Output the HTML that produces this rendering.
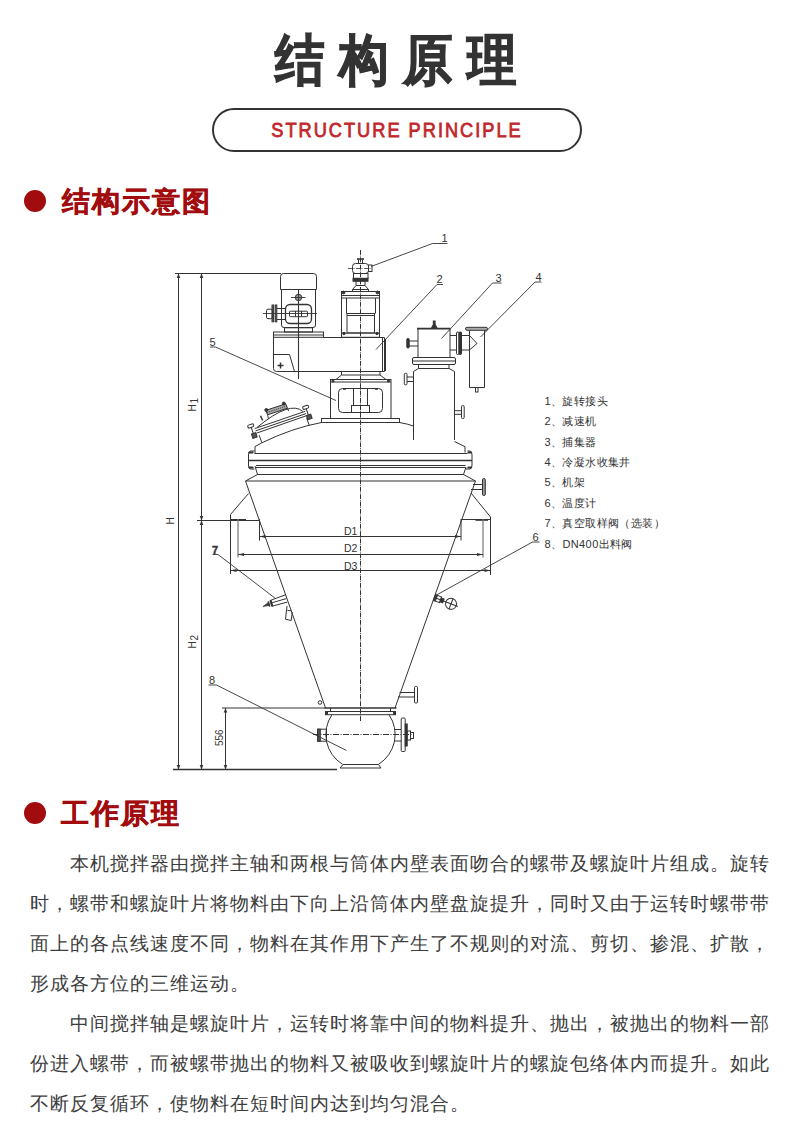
<!DOCTYPE html>
<html>
<head>
<meta charset="utf-8">
<style>
html,body{margin:0;padding:0;background:#fff;}
body{width:790px;height:1138px;position:relative;overflow:hidden;font-family:"Liberation Sans",sans-serif;}
.title{position:absolute;left:8px;top:19.5px;width:790px;text-align:center;font-size:55px;font-weight:700;color:#333;letter-spacing:15.9px;transform:scaleX(0.9);transform-origin:395px 0;-webkit-text-stroke:1.2px #333;line-height:80px;}
.pill{position:absolute;left:212px;top:108px;width:366px;height:40px;border:2px solid #333;border-radius:22px;}
.pilltxt{position:absolute;left:2px;top:117px;width:790px;text-align:center;font-size:20px;color:#c1272d;letter-spacing:2.2px;line-height:26px;-webkit-text-stroke:0.8px #c1272d;transform:scaleX(0.91);transform-origin:395px 0;}
.h2{position:absolute;left:61px;font-size:28px;letter-spacing:2px;font-weight:700;color:#a20c0e;line-height:34px;margin-top:1px;-webkit-text-stroke:0.5px #a20c0e;}
.dot{position:absolute;left:24px;width:22px;height:22px;border-radius:50%;background:#a20c0e;}
.body{position:absolute;left:30px;width:740px;font-size:19px;letter-spacing:1px;font-weight:400;color:#3d3d3d;line-height:40px;text-align:justify;}
.ln{white-space:nowrap;text-align:justify;text-align-last:justify;height:40px;}
.ln.last{text-align-last:left;}
svg{position:absolute;left:0;top:0;}
</style>
</head>
<body>
<div class="title">结构原理</div>
<div class="pill"></div>
<div class="pilltxt">STRUCTURE PRINCIPLE</div>

<div class="dot" style="top:190px"></div>
<div class="h2" style="top:184px;left:62px">结构示意图</div>

<svg id="diag" width="790" height="1138" viewBox="0 0 790 1138">
<g fill="none" stroke="#333" stroke-width="1">
<!-- dimension lines -->
<path d="M175 273.5H281"/>
<path d="M178.5 273.5V769.5"/>
<path d="M201.5 273.5V769.5"/>
<path d="M197 520.5H260"/>
<path d="M222 708H325"/>
<path d="M225.5 708V769.5"/>
<path d="M173 769.5H337" stroke-width="1.6"/>
</g>
<g fill="#333" stroke="none">
<path d="M178.5 273.5l-1.8 4.5h3.6z"/>
<path d="M178.5 769.5l-1.8 -4.5h3.6z"/>
<path d="M201.5 273.5l-1.8 4.5h3.6z"/>
<path d="M201.5 769.5l-1.8 -4.5h3.6z"/>
<path d="M201.5 520.5l-1.8 4.5h3.6z"/>
<path d="M201.5 520.5l-1.8 -4.5h3.6z"/>
<path d="M225.5 708l-1.8 4.5h3.6z"/>
<path d="M225.5 769.5l-1.8 -4.5h3.6z"/>
</g>
<g font-family="Liberation Sans" font-size="10" fill="#3a3a3a">
<text transform="translate(174 524.5) rotate(-90)">H</text>
<text transform="translate(196 411.5) rotate(-90)">H<tspan dy="1.8" dx="0.8">1</tspan></text>
<text transform="translate(196 648.5) rotate(-90)">H<tspan dy="1.8" dx="0.8">2</tspan></text>
<text transform="translate(223 746) rotate(-90)">556</text>
</g>
<g fill="none" stroke="#333" stroke-width="1">
<!-- centerline -->
<path d="M360.5 250V721" stroke-dasharray="4.8 0.9 0.8 0.9" stroke-width="1"/>
<!-- motor -->
<path d="M280.5 289.5V276.5Q280.5 273.5 283.5 273.5H313.5Q316.5 273.5 316.5 276.5V289.5Z"/>
<path d="M281.5 289.5V325Q281.5 327.5 284 327.5H313Q315.5 327.5 315.5 325V289.5"/>
<rect x="285.5" y="304.5" width="26" height="19" rx="4.5" stroke-width="1.3"/>
<rect x="289.5" y="311.2" width="18" height="5.5" rx="0.8"/>
<path d="M295.5 311v5.5M301.5 311v5.5"/>
<path d="M263 313.5H317" stroke-width="0.9"/>
<path d="M298.5 289.5V379" stroke-width="1.1"/>
<circle cx="298.5" cy="297.5" r="3.2" fill="#999"/>
<path d="M291 297.5h14.5M298.5 292.5v10" stroke-width="0.9"/>
<path d="M277 308.5H285.5M277 319.5H285.5"/>
<rect x="272" y="305" width="1.6" height="16.8" fill="#666"/>
<rect x="275.2" y="305" width="1.6" height="16.8" fill="#666"/>
<rect x="266.5" y="309.2" width="5.8" height="9.5" rx="1.5"/>
<rect x="284.5" y="327.8" width="28" height="4.2"/>
<rect x="273.5" y="332" width="50" height="5.3"/>
<path d="M273.5 335H323.5"/>
<!-- gearbox horizontal -->
<path d="M323.5 337.5H384.5V371.5H276.5Q273.5 371.5 273.5 368.5V337.5"/>
<path d="M382.5 338V371M385.5 339V371"/>
<path d="M273.5 354.5H289.5L294.5 371.5"/>
<path d="M277.5 365.5h6M280.5 362.5v6" stroke-width="1.5"/>
<path d="M380 371.5h4"/>
<!-- reducer housing -->
<rect x="341.5" y="291.5" width="38" height="6.5"/>
<path d="M341.5 295.5H379.5"/>
<path d="M341.5 298V333M379.5 298V333"/>
<path d="M346.5 298V313.5M375.5 298V313.5"/>
<rect x="347" y="313.5" width="27.5" height="19.5"/>
<path d="M347 315.5H374.5"/>
<rect x="341.5" y="333" width="38" height="4.3"/>
<circle cx="343.5" cy="292.5" r="1.4" fill="#333"/>
<circle cx="377.5" cy="292.5" r="1.4" fill="#333"/>
<circle cx="344" cy="333.5" r="1.2" fill="#333"/>
<circle cx="377" cy="333.5" r="1.2" fill="#333"/>
<!-- rotary joint -->
<path d="M357 259H364" stroke-width="1.6"/>
<path d="M358.5 259.5V263.5M362.5 259.5V263.5"/>
<rect x="352.5" y="263.5" width="16" height="10" rx="3"/>
<rect x="368.5" y="265" width="3.5" height="6.5"/>
<path d="M348 268.5H372" stroke-dasharray="4 1.5 1 1.5" stroke-width="0.8"/>
<rect x="353.5" y="273.5" width="14.5" height="5"/>
<rect x="353" y="278.3" width="15" height="3" fill="#333"/>
<path d="M356 281.5V285.5M365 281.5V285.5M356 285.5H365"/>
<path d="M356 285.5L352.5 289.5H368.5L365 285.5M352.5 289.5V291.5H368.5V289.5"/>
<!-- frame 5 -->
<path d="M341.5 371.5V375H380V371.5"/>
<path d="M341.5 375L336 379.5M380 375L386 379.5"/>
<rect x="330.5" y="379.5" width="60.5" height="39"/>
<path d="M330.5 382H391"/>
<circle cx="333" cy="381" r="1.1" fill="#333"/>
<circle cx="388.5" cy="381" r="1.1" fill="#333"/>
<rect x="338.5" y="388.5" width="44" height="24" rx="4"/>
<path d="M353.5 388.5V405.5M367.5 388.5V405.5"/>
<path d="M343 389h3M375 389h3" stroke-width="1.5"/>
<rect x="351.5" y="405.5" width="18" height="7"/>
<rect x="321.5" y="418.5" width="78" height="4"/>
<!-- dome head -->
<path d="M255 453.5V446.5L261.5 443"/>
<path d="M261.5 443Q292 428 321.5 422.5"/>
<path d="M399.5 422.5Q408 424 413.5 426"/>
<path d="M454.5 441.5L465 446.7V452.5"/>
<!-- body flange -->
<path d="M254.5 453.5H467.5M256 465.5H465.5M256 467.5H465.5"/>
<path d="M249 460.5H472" stroke-width="1.4"/>
<path d="M257 474.5H464M245.5 481H475.5"/>
<path d="M255 466L257.5 474.5L245.5 481M466 467L463.5 474.5L475.5 481"/>
<path d="M254.5 451H250.5Q248.5 451 248.5 455V465Q248.5 469 250.5 469H254.5"/>
<path d="M249.5 452.5h3M249.5 467.5h3" stroke-width="2.2" stroke-linecap="round"/>
<path d="M467.5 451H470Q472 451 472 455V465Q472 469 470 469H466"/>
<path d="M468.5 452.5h2.5M468.5 467.5h2.5" stroke-width="2.2" stroke-linecap="round"/>
<!-- cone -->
<path d="M245.5 481L325.5 708M475.5 481L395 708"/>
<path d="M324.5 708H396.5" stroke-width="1.4"/>
<path d="M330.5 708V711.5M390.5 708V711.5"/>
<rect x="325.5" y="711.5" width="70" height="3.2"/>
<path d="M327 711.5v3.2M394 711.5v3.2" stroke-width="2"/>
<!-- right top nozzle -->
<path d="M473 484.5H482.5M471 489.5H482.5"/>
<rect x="482.5" y="478.5" width="2.8" height="17" rx="1.2" fill="#999"/>
<!-- supports -->
<path d="M248.5 493.5L230.5 514.5V574M230.5 519.5H246"/>
<path d="M238 519V557.5" stroke="#777" stroke-width="1.2"/>
<path d="M259.5 519V540.5"/>
<path d="M471 493L490.5 517V575M461 519.5H490.5"/>
<path d="M475.5 520.5H488" stroke="#555"/>
<path d="M483 519V557.5" stroke="#777" stroke-width="1.2"/>
<path d="M461 519V540.5"/>
<!-- D dims -->
<path d="M259.5 536.5H461M238 554.5H483M230.5 570.5H490.5"/>
</g>
<g fill="#333">
<path d="M259.5 536.5l6 -1.4v2.8zM461 536.5l-6 -1.4v2.8z"/>
<path d="M238 554.5l6 -1.4v2.8zM483 554.5l-6 -1.4v2.8z"/>
<path d="M230.5 570.5l6 -1.4v2.8zM490.5 570.5l-6 -1.4v2.8z"/>
</g>
<g font-family="Liberation Sans" font-size="10.5" fill="#333">
<text x="344" y="535">D1</text>
<text x="344" y="552">D2</text>
<text x="344" y="569.5">D3</text>
</g>
<g fill="none" stroke="#333" stroke-width="1">
<!-- manway -->
<path d="M259.2 435.2L261.8 442.6M306.6 417.9L309.2 425.3"/>
<path d="M254.7 428.6L305.2 411.3M255.5 430.9L306 413.6M256.4 433.2L307 415.5"/>
<path d="M257 427.5Q290 400 303 411.5"/>
<path d="M265.8 410.4L285.7 403.8L287.5 408.2L267.6 414.8Z" fill="#aaa"/>
<path d="M266.8 412.6L286.6 406" stroke-dasharray="1 1"/>
<circle cx="266.3" cy="410" r="1.5" fill="#333"/>
<circle cx="283.8" cy="403.6" r="1.5" fill="#333"/>
<path d="M267.6 414.8L268.5 419M287.5 408.2L288.6 411"/>
<path d="M260.5 415.7L262.7 420.5" stroke-width="1.5"/>
<g transform="translate(253 431) rotate(-19)">
<rect x="-3.5" y="-7" width="6" height="3" rx="1.2"/>
<path d="M-0.5 -4V7"/>
<rect x="-2.5" y="2.5" width="4.5" height="4.5" fill="#555"/>
</g>
<g transform="translate(307.5 412.5) rotate(-19)">
<rect x="-3" y="-7" width="6" height="3" rx="1.2"/>
<path d="M0 -4V7"/>
<rect x="-2" y="2.5" width="4.5" height="4.5" fill="#555"/>
</g>
<!-- collector 3 -->
<path d="M413.5 440V371.5L418.5 368.5V364.5M454.5 440V371.5L449 368.5V364.5"/>
<path d="M418.5 368.5H449"/>
<rect x="412.5" y="357.5" width="43" height="7" rx="1.5"/>
<path d="M412.5 361H455.5"/>
<path d="M418 329V357.5M450 329V357.5"/>
<path d="M417 328.7H450.5" stroke-width="1.8"/>
<path d="M431.5 328L433 325H435.5L437 328Z" fill="#333"/>
<rect x="433.3" y="321" width="1.8" height="4" fill="#333"/>
<path d="M409 341H418M409 346H418"/>
<rect x="406.8" y="338.5" width="2.4" height="9.5" rx="1" fill="#333"/>
<path d="M407 377H413.5M407 381.5H413.5"/>
<rect x="404.3" y="373.3" width="2.7" height="11.5" rx="1"/>
<path d="M454.5 410.7H461.5M454.5 414.3H461.5"/>
<rect x="461.5" y="405.7" width="2.7" height="12.8" rx="1"/>
<path d="M450 335.5H456.5M450 350H456.5"/>
<rect x="456.5" y="332" width="2.5" height="22.5" rx="1"/>
<rect x="459" y="332" width="2.5" height="22.5" rx="1" fill="#333"/>
<path d="M461.5 335.5H469M461.5 350H469"/>
<!-- condensate pot 4 -->
<rect x="465.5" y="327.3" width="22" height="3" rx="1.5" fill="#aaa"/>
<path d="M469.5 330.5V387.5H484.5V330.5"/>
<path d="M469.5 335.5L477 343.5L469.5 350"/>
<rect x="475.5" y="387.5" width="2.5" height="4.5"/>
<!-- valve 7 -->
<path d="M285.4 594.8L270.2 600.5M286.3 598.6L272.1 602.7M287.3 602.1L272.1 606.2"/>
<path d="M270.5 600.2L272.3 606.4" stroke-width="2.2"/>
<path d="M268.2 601.5L269.6 606.6" stroke-width="1.6"/>
<path d="M268.5 602.5L263 606.5L269.5 605.3Z" fill="#444" stroke-width="0.8"/>
<path d="M287 606L285.5 619.2L291.2 620.5L292.3 612M287.4 610.4L291.6 610.9"/>
<!-- gauge 6 -->
<g transform="translate(434.5 597.5) rotate(21)">
<rect x="0.5" y="-3" width="6" height="6"/>
<rect x="0" y="-3" width="2" height="6" fill="#444"/>
<rect x="6.5" y="-2" width="3" height="4" fill="#333"/>
<path d="M0 0H25"/>
<circle cx="17.7" cy="0" r="5.5"/>
<path d="M17.7 -5.5V5.5"/>
</g>
<!-- lower right nozzle -->
<path d="M399.5 692.5H414.5M398 697H414.5"/>
<rect x="414.5" y="686.5" width="3" height="16.5" rx="1"/>
<circle cx="320" cy="702.5" r="1.8"/>
<!-- ball valve -->
<path d="M331.9 714.8A35 35 0 0 0 342.5 764.3M389.1 714.8A35 35 0 0 1 378.5 764.3"/>
<path d="M343 764.5H378.5M340 768H381L378.5 764.5M343 764.5L340 768"/>
<rect x="317.7" y="729.2" width="8.8" height="12"/>
<rect x="317.7" y="729.2" width="2.6" height="12" fill="#555"/>
<path d="M394.5 729.5H401.2M394.5 741H401.2"/>
<rect x="401.2" y="718" width="4" height="33.5" rx="1"/>
<rect x="405.2" y="724" width="2" height="22" fill="#333"/>
<rect x="407" y="731" width="3.5" height="9"/>
<rect x="410.5" y="732.5" width="3" height="6"/>
<path d="M313 734.5H413" stroke-dasharray="6 1.5 1 1.5" stroke-width="1"/>
</g>
<!-- leaders -->
<g fill="none" stroke="#333" stroke-width="0.9">
<path d="M447.5 243.5H432.5L371 266.5"/>
<path d="M443 284.5H437L376 349.5"/>
<path d="M501.5 283H492.5L441.5 338.5"/>
<path d="M541.5 282H535L480.5 337"/>
<path d="M210 347H215.5L336 400.5"/>
<path d="M539.5 542H532.5L436.5 595"/>
<path d="M212.5 554.5H218L275.5 598.5"/>
<path d="M208.5 685H216.5L346.5 750.5"/>
</g>
<g font-family="Liberation Sans" font-size="11" fill="#333">
<text x="441.5" y="242">1</text>
<text x="436.5" y="283">2</text>
<text x="495.5" y="282">3</text>
<text x="535.5" y="281">4</text>
<text x="209.5" y="346">5</text>
<text x="532.5" y="540.5">6</text>
<text x="212" y="553.5" font-weight="700" stroke="#333" stroke-width="0.4">7</text>
<text x="209" y="684">8</text>
</g>
<g font-family="Liberation Sans" font-size="11" fill="#333" letter-spacing="0.4">
<text x="544.5" y="405">1、旋转接头</text>
<text x="544.5" y="425">2、减速机</text>
<text x="544.5" y="445.5">3、捕集器</text>
<text x="544.5" y="465.5">4、冷凝水收集井</text>
<text x="544.5" y="486">5、机架</text>
<text x="544.5" y="506.5">6、温度计</text>
<text x="544.5" y="527">7、真空取样阀（选装）</text>
<text x="544.5" y="547.5">8、DN400出料阀</text>
</g>
</svg>

<div class="dot" style="top:802px"></div>
<div class="h2" style="top:795.5px">工作原理</div>

<div class="body" style="top:843.5px">
<div class="ln" style="padding-left:40px">本机搅拌器由搅拌主轴和两根与筒体内壁表面吻合的螺带及螺旋叶片组成。旋转</div>
<div class="ln">时，螺带和螺旋叶片将物料由下向上沿筒体内壁盘旋提升，同时又由于运转时螺带带</div>
<div class="ln">面上的各点线速度不同，物料在其作用下产生了不规则的对流、剪切、掺混、扩散，</div>
<div class="ln last">形成各方位的三维运动。</div>
<div class="ln" style="padding-left:40px">中间搅拌轴是螺旋叶片，运转时将靠中间的物料提升、抛出，被抛出的物料一部</div>
<div class="ln">份进入螺带，而被螺带抛出的物料又被吸收到螺旋叶片的螺旋包络体内而提升。如此</div>
<div class="ln last">不断反复循环，使物料在短时间内达到均匀混合。</div>
</div>
</body>
</html>
